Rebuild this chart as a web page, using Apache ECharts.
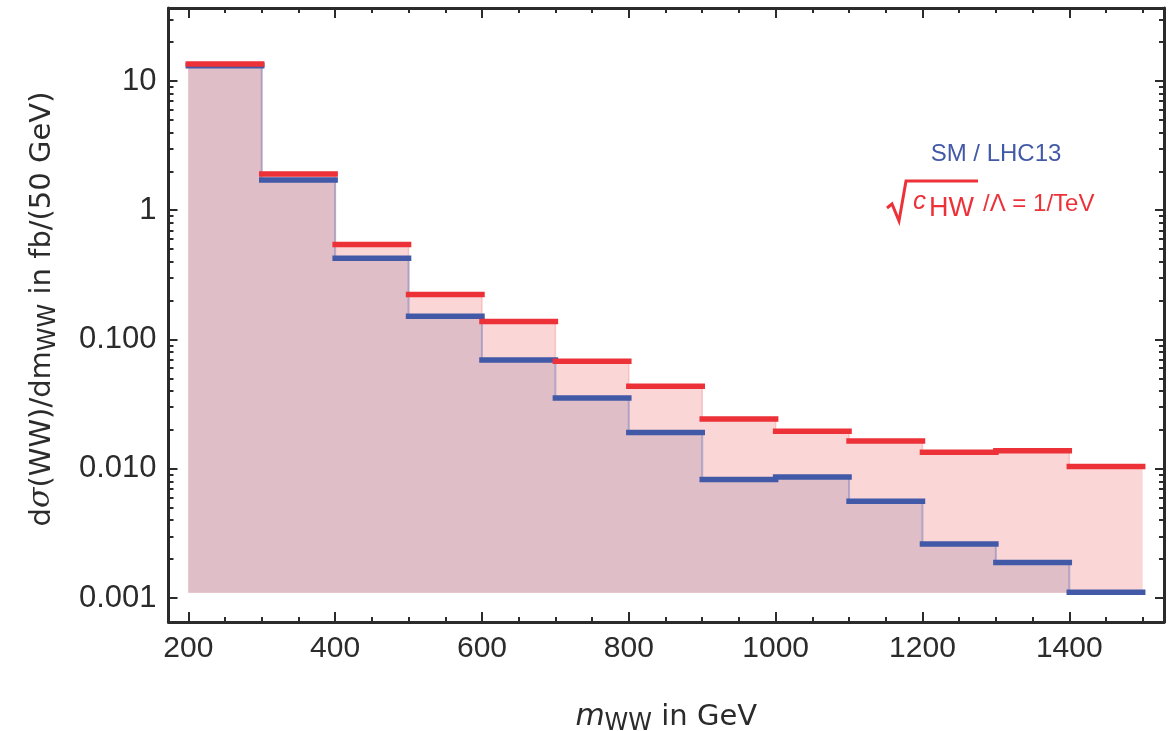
<!DOCTYPE html>
<html>
<head>
<meta charset="utf-8">
<script src="https://cdn.jsdelivr.net/npm/echarts@6/dist/echarts.min.js"></script>
<style>
  html, body { margin: 0; padding: 0; background: #fff; }
  #chart { width: 1174px; height: 731px; }
</style>
</head>
<body>
<div id="chart"></div>
<script>
// bin edges in GeV, one value per bin (fb / 50 GeV)
const binEdges = [200, 300, 400, 500, 600, 700, 800, 900, 1000, 1100, 1200, 1300, 1400, 1500];
const smValues = [13.1, 1.71, 0.425, 0.151, 0.0695, 0.0353, 0.0191, 0.00824, 0.00864, 0.00561, 0.00262, 0.00188, 0.00111];
const chwValues = [13.55, 1.91, 0.543, 0.223, 0.138, 0.0679, 0.0435, 0.0243, 0.0195, 0.0164, 0.0134, 0.0138, 0.0104];
const fillBase = 0.0011;

const xMajorTicks = [200, 400, 600, 800, 1000, 1200, 1400];
const xMinorTicks = [250, 300, 350, 450, 500, 550, 650, 700, 750, 850, 900, 950, 1050, 1100, 1150, 1250, 1300, 1350, 1450, 1500];
const yMajorTicks = [0.001, 0.01, 0.1, 1, 10];
const yMinorTicks = [
  0.002, 0.003, 0.004, 0.005, 0.006, 0.007, 0.008, 0.009,
  0.02, 0.03, 0.04, 0.05, 0.06, 0.07, 0.08, 0.09,
  0.2, 0.3, 0.4, 0.5, 0.6, 0.7, 0.8, 0.9,
  2, 3, 4, 5, 6, 7, 8, 9, 20, 30
];

const RED = '#ec3238';
const BLUE = '#4259a7';
const INK = '#2b2b2b';
const TITLE_FONT = 'DejaVu Sans';

// histogram outline for a step line (step: 'end')
function stepData(vals) {
  const pts = vals.map((v, i) => [binEdges[i], v]);
  pts.push([binEdges[binEdges.length - 1], vals[vals.length - 1]]);
  return pts;
}
// thick horizontal bars only, broken between bins
function barTops(vals) {
  const pts = [];
  vals.forEach((v, i) => {
    pts.push([binEdges[i], v], [binEdges[i + 1], v], [binEdges[i + 1], '-']);
  });
  return pts;
}

const chart = echarts.init(document.getElementById('chart'), null, { renderer: 'canvas' });

const frameLine = { show: true, onZero: false, lineStyle: { color: INK, width: 3 } };
const noLine = { show: false };

function xAx(pos, ticks, len, withLabels, extra) {
  return Object.assign({
    type: 'value', min: 173, max: 1529, position: pos,
    axisLine: withLabels !== null ? frameLine : noLine,
    axisTick: { show: true, inside: true, length: len, customValues: ticks, lineStyle: { color: INK, width: 2 } },
    axisLabel: withLabels ? {
      customValues: ticks, fontSize: 30, color: INK, margin: 12, fontFamily: 'Liberation Sans',
      formatter: v => String(Math.round(v))
    } : { show: false },
    splitLine: { show: false }
  }, extra || {});
}
function yAx(pos, ticks, len, withLabels, extra) {
  return Object.assign({
    type: 'log', logBase: 10, min: 0.000652, max: 36.7, position: pos,
    axisLine: withLabels !== null ? frameLine : noLine,
    axisTick: { show: true, inside: true, length: len, customValues: ticks, lineStyle: { color: INK, width: 2 } },
    axisLabel: withLabels ? {
      customValues: ticks, fontSize: 31, color: INK, margin: 12, fontFamily: 'Liberation Sans',
      formatter: v => (v >= 1 ? String(Math.round(v)) : Number(v).toFixed(3))
    } : { show: false },
    splitLine: { show: false }
  }, extra || {});
}

const titleRich = {
  i: { fontSize: 30, fontStyle: 'italic', color: INK, fontFamily: TITLE_FONT, lineHeight: 36, verticalAlign: 'bottom' },
  g: { fontSize: 30, fontStyle: 'italic', color: INK, fontFamily: 'DejaVu Serif', lineHeight: 36, verticalAlign: 'bottom' },
  s: { fontSize: 24, color: INK, fontFamily: TITLE_FONT, lineHeight: 28, verticalAlign: 'bottom', padding: [0, 0, -4, 0] },
  n: { fontSize: 29, color: INK, fontFamily: TITLE_FONT, lineHeight: 36, verticalAlign: 'bottom' }
};

const option = {
  backgroundColor: '#fff',
  animation: false,
  grid: { left: 168.5, right: 10, top: 8, bottom: 109, outerBoundsMode: 'none', containLabel: false },
  xAxis: [
    xAx('bottom', xMajorTicks, 10, true, {
      name: '{i|m}{s|WW}{n| in GeV}',
      nameLocation: 'middle', nameGap: 74,
      nameTextStyle: { rich: titleRich }
    }),
    xAx('bottom', xMinorTicks, 5, null),
    xAx('top', xMajorTicks, 10, false),
    xAx('top', xMinorTicks, 5, null)
  ],
  yAxis: [
    yAx('left', yMajorTicks, 9, true, {
      name: '{n|d}{g|σ}{n|(WW)/dm}{s|WW}{n| in fb/(50 GeV)}',
      nameLocation: 'middle', nameRotate: 90, nameGap: 112,
      nameTextStyle: { rich: titleRich, padding: [0, 0, 0, 12] }
    }),
    yAx('left', yMinorTicks, 5, null),
    yAx('right', yMajorTicks, 9, false),
    yAx('right', yMinorTicks, 5, null)
  ],
  series: [
    {
      name: 'cHW fill', type: 'line', step: 'end', data: stepData(chwValues),
      symbol: 'none', z: 2,
      lineStyle: { color: 'rgba(240,150,150,0.45)', width: 1.5 },
      areaStyle: { color: '#fad6d6', opacity: 1, origin: fillBase }
    },
    {
      name: 'SM fill', type: 'line', step: 'end', data: stepData(smValues),
      symbol: 'none', z: 3,
      lineStyle: { color: 'rgba(110,120,185,0.45)', width: 2 },
      areaStyle: { color: '#dfbec7', opacity: 1, origin: fillBase }
    },
    {
      name: 'SM', type: 'line', data: barTops(smValues), connectNulls: false,
      symbol: 'none', z: 4,
      lineStyle: { color: BLUE, width: 5.5, cap: 'square' }
    },
    {
      name: 'cHW', type: 'line', data: barTops(chwValues), connectNulls: false,
      symbol: 'none', z: 5,
      lineStyle: { color: RED, width: 5.5, cap: 'square' }
    }
  ],
  graphic: [
    {
      type: 'text', z: 10,
      style: { x: 996, y: 154.5, text: 'SM / LHC13', fill: BLUE, fontSize: 24, fontFamily: 'Liberation Sans', align: 'center', verticalAlign: 'middle' }
    },
    {
      type: 'polyline', z: 10,
      shape: { points: [[887, 208], [892, 204], [899, 221], [906, 181], [978, 181]] },
      style: { stroke: RED, lineWidth: 3, fill: null }
    },
    {
      type: 'text', z: 10,
      style: { x: 913, y: 202, text: 'c', fill: RED, fontSize: 26, fontStyle: 'italic', fontFamily: 'Liberation Sans', align: 'left', verticalAlign: 'middle' }
    },
    {
      type: 'text', z: 10,
      style: { x: 929, y: 209, text: 'HW', fill: RED, fontSize: 27, fontFamily: 'Liberation Sans', align: 'left', verticalAlign: 'middle' }
    },
    {
      type: 'text', z: 10,
      style: { x: 983, y: 204, text: '/Λ = 1/TeV', fill: RED, fontSize: 24, fontFamily: 'Liberation Sans', align: 'left', verticalAlign: 'middle' }
    }
  ]
};

chart.setOption(option);
</script>
</body>
</html>
